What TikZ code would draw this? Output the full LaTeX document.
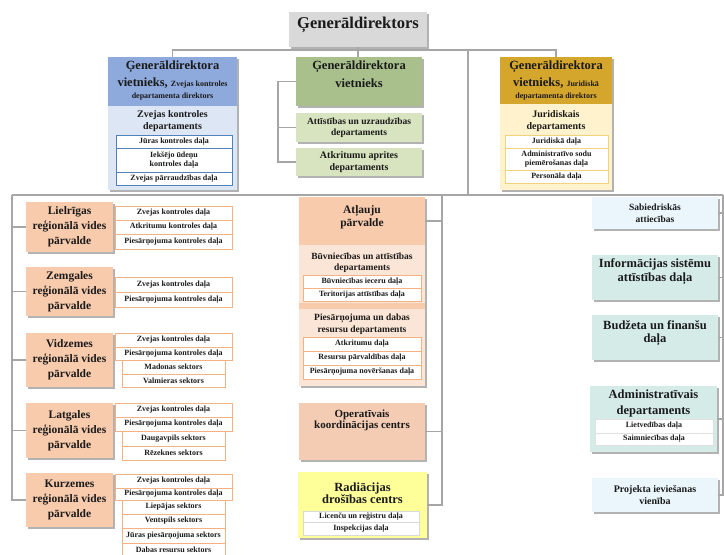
\documentclass[tikz,border=0pt]{standalone}
\usepackage{fontspec}
\setmainfont{Liberation Serif}
\usetikzlibrary{shadows}
\definecolor{lgray}{HTML}{A6A6A6}
\definecolor{topgray}{HTML}{D9D9D9}
\definecolor{bluehd}{HTML}{8EA9DB}
\definecolor{bluelt}{HTML}{DCE6F4}
\definecolor{bluebd}{HTML}{4F81BD}
\definecolor{greenhd}{HTML}{A9C08C}
\definecolor{greenlt}{HTML}{D8E4BF}
\definecolor{goldhd}{HTML}{D5A62C}
\definecolor{goldlt}{HTML}{FFF2CC}
\definecolor{goldbd}{HTML}{F2D27A}
\definecolor{peach}{HTML}{F8CBAD}
\definecolor{peachlt}{HTML}{FBE5D6}
\definecolor{peachbd}{HTML}{F4B183}
\definecolor{opfill}{HTML}{F4CCB4}
\definecolor{yel}{HTML}{FFFF99}
\definecolor{tealf}{HTML}{D4EBE8}
\definecolor{skyl}{HTML}{EAF6FB}
\definecolor{txt}{HTML}{1A1A1A}
\newcommand\fs[2]{\fontsize{#1}{#2}\selectfont\bfseries}
\newcommand\bx[6]{\pgfmathsetmacro\bxw{#4-#2}\pgfmathsetmacro\bxh{#5-#3}\node[#6,anchor=north west,minimum width=\bxw pt,minimum height=\bxh pt,inner sep=0pt,outer sep=0pt] (#1) at (#2,#3) {};}
\newcommand\rw[7]{\pgfmathsetmacro\bxw{#4-#2}\pgfmathsetmacro\bxh{#5-#3}\node[#6,anchor=north west,minimum width=\bxw pt,minimum height=\bxh pt,inner sep=0pt,outer sep=0pt,align=center] (#1) at (#2,#3) {#7};}
\tikzset{
  conn/.style={draw=lgray,line width=1.2pt},
  shd/.style={drop shadow={shadow xshift=1.5pt,shadow yshift=-1.5pt,fill=black,opacity=.3}},
  tx/.style={align=center,inner sep=0pt,text=txt},
  rowb/.style={draw=#1,fill=white,line width=.6pt,text=txt,font=\fs{8}{9}},
}
\begin{document}
\begin{tikzpicture}[x=1pt,y=-1pt]
\useasboundingbox[fill=white] (0,0) rectangle (724,555);

% ---------- top ----------
\bx{gd}{289}{12}{427}{47}{fill=topgray,shd}
\node[tx,font=\fs{16.5}{18}] (gdt) at (358,25) {Ģenerāldirektors};

% ---------- deputy 1 (blue) ----------
\bx{dep1p}{108}{57}{237}{190}{fill=bluelt,shd}
\bx{dep1}{108}{57}{237}{106}{fill=bluehd}
\node[tx,font=\fs{12.5}{14}] (dep1a) at (172.5,67) {Ģenerāldirektora};
\node[tx,font=\fs{12.5}{14}] (dep1b) at (172.5,83) {vietnieks, {\fs{8}{9}Zvejas kontroles}};
\node[tx,font=\fs{8}{9}] (dep1c) at (172.5,97) {departamenta direktors};
\node[tx,font=\fs{10}{12}] (dep1d) at (172.5,121) {Zvejas kontroles\\departaments};
\rw{d1r1}{116}{135}{232}{148}{rowb=bluebd}{Jūras kontroles daļa}
\rw{d1r2}{116}{148}{232}{172}{rowb=bluebd}{Iekšējo ūdeņu\\kontroles daļa}
\rw{d1r3}{116}{172}{232}{185}{rowb=bluebd}{Zvejas pārraudzības daļa}

% ---------- deputy 2 (green) ----------
\bx{dep2}{296}{57}{422}{106}{fill=greenhd,shd}
\node[tx,font=\fs{12.5}{14}] (dep2a) at (359,67) {Ģenerāldirektora};
\node[tx,font=\fs{12.5}{14}] (dep2b) at (359,83) {vietnieks};
\rw{att}{296}{113}{422}{142}{tx,fill=greenlt,shd,font=\fs{9.5}{11}}{Attīstības un uzraudzības\\departaments}
\rw{atk}{296}{148}{422}{176}{tx,fill=greenlt,shd,font=\fs{10}{12}}{Atkritumu aprites\\departaments}

% ---------- deputy 3 (gold) ----------
\bx{dep3p}{500}{57}{612}{190}{fill=goldlt,shd}
\bx{dep3}{500}{57}{612}{104}{fill=goldhd}
\node[tx,font=\fs{12.5}{14}] (dep3a) at (556,67) {Ģenerāldirektora};
\node[tx,font=\fs{12.5}{14}] (dep3b) at (556,83) {vietnieks, {\fs{8}{9}Juridiskā}};
\node[tx,font=\fs{8}{9}] (dep3c) at (556,97) {departamenta direktors};
\node[tx,font=\fs{10}{12}] (dep3d) at (556,121) {Juridiskais\\departaments};
\rw{d3r1}{505}{135}{608}{148}{rowb=goldbd}{Juridiskā daļa}
\rw{d3r2}{505}{148}{608}{170}{rowb=goldbd}{Administratīvo sodu\\piemērošanas daļa}
\rw{d3r3}{505}{170}{608}{183}{rowb=goldbd}{Personāla daļa}

% ---------- left: regional boards ----------
\rw{lie}{26}{202}{113}{252}{tx,fill=peach,shd,font=\fs{11.5}{15}}{Lielrīgas\\reģionālā vides\\pārvalde}
\rw{lie1}{115}{206}{232}{220}{rowb=peachbd}{Zvejas kontroles daļa}
\rw{lie2}{115}{220}{232}{234}{rowb=peachbd}{Atkritumu kontroles daļa}
\rw{lie3}{115}{234}{232}{249}{rowb=peachbd}{Piesārņojuma kontroles daļa}

\rw{zem}{26}{267}{113}{316}{tx,fill=peach,shd,font=\fs{11.5}{15}}{Zemgales\\reģionālā vides\\pārvalde}
\rw{zem1}{115}{277}{232}{292}{rowb=peachbd}{Zvejas kontroles daļa}
\rw{zem2}{115}{292}{232}{307}{rowb=peachbd}{Piesārņojuma kontroles daļa}

\rw{vid}{26}{333}{113}{387}{tx,fill=peach,shd,font=\fs{11.5}{15}}{Vidzemes\\reģionālā vides\\pārvalde}
\rw{vid1}{115}{333}{232}{347}{rowb=peachbd}{Zvejas kontroles daļa}
\rw{vid2}{115}{347}{232}{360}{rowb=peachbd}{Piesārņojuma kontroles daļa}
\rw{vid3}{122}{360}{225}{374}{rowb=peachbd}{Madonas sektors}
\rw{vid4}{122}{374}{225}{387}{rowb=peachbd}{Valmieras sektors}

\rw{lat}{26}{403}{113}{458}{tx,fill=peach,shd,font=\fs{11.5}{15}}{Latgales\\reģionālā vides\\pārvalde}
\rw{lat1}{115}{403}{232}{417}{rowb=peachbd}{Zvejas kontroles daļa}
\rw{lat2}{115}{417}{232}{431}{rowb=peachbd}{Piesārņojuma kontroles daļa}
\rw{lat3}{122}{431}{225}{446}{rowb=peachbd}{Daugavpils sektors}
\rw{lat4}{122}{446}{225}{460}{rowb=peachbd}{Rēzeknes sektors}

\rw{kur}{26}{473}{113}{527}{tx,fill=peach,shd,font=\fs{11.5}{15}}{Kurzemes\\reģionālā vides\\pārvalde}
\rw{kur1}{115}{474}{232}{488}{rowb=peachbd}{Zvejas kontroles daļa}
\rw{kur2}{115}{488}{232}{500}{rowb=peachbd}{Piesārņojuma kontroles daļa}
\rw{kur3}{122}{500}{225}{514}{rowb=peachbd}{Liepājas sektors}
\rw{kur4}{122}{514}{225}{528}{rowb=peachbd}{Ventspils sektors}
\rw{kur5}{122}{528}{225}{543}{rowb=peachbd}{Jūras piesārņojuma sektors}
\rw{kur6}{122}{543}{225}{557}{rowb=peachbd}{Dabas resursu sektors}

% ---------- middle column ----------
\bx{atlp}{299}{197}{425}{386}{fill=peachlt,shd}
\bx{atl}{299}{197}{425}{245}{fill=peach}
\bx{band}{299}{303}{425}{309}{fill=peach}
\node[tx,font=\fs{11.5}{13}] (atlt) at (362,217.5) {Atļauju\\pārvalde};
\node[tx,font=\fs{9.5}{11.5}] (buvt) at (362,262.5) {Būvniecības un attīstības\\departaments};
\rw{buv1}{303}{275}{421}{288}{rowb=peachbd}{Būvniecības ieceru daļa}
\rw{buv2}{303}{288}{421}{301}{rowb=peachbd}{Teritorijas attīstības daļa}
\node[tx,font=\fs{9.5}{11.5}] (piet) at (362,324) {Piesārņojuma un dabas\\resursu departaments};
\rw{pie1}{303}{337}{421}{351}{rowb=peachbd}{Atkritumu daļa}
\rw{pie2}{303}{351}{421}{365}{rowb=peachbd}{Resursu pārvaldības daļa}
\rw{pie3}{303}{365}{421}{379}{rowb=peachbd}{Piesārņojuma novēršanas daļa}

\bx{op}{299}{403}{425}{460}{fill=opfill,shd}
\node[tx,font=\fs{11}{11.5}] (opt) at (362,420.5) {Operatīvais\\koordinācijas centrs};

\bx{rad}{298}{472}{427}{538}{fill=yel,shd}
\node[tx,font=\fs{12.5}{12.5}] (radt) at (362.5,493) {Radiācijas\\drošības centrs};
\rw{rad1}{303}{511}{419}{522}{rowb=black!15}{Licenču un reģistru daļa}
\rw{rad2}{303}{522}{419}{535}{rowb=black!15}{Inspekcijas daļa}

% ---------- right column ----------
\rw{sab}{592}{197}{718}{229}{tx,fill=skyl,shd,font=\fs{9.5}{12}}{Sabiedriskās\\attiecības}
\bx{inf}{592}{255}{718}{300}{fill=tealf,shd}
\node[tx,font=\fs{12.5}{14}] (inft) at (655,272) {Informācijas sistēmu\\attīstības daļa};
\bx{bud}{592}{315}{718}{360}{fill=tealf,shd}
\node[tx,font=\fs{12.5}{13}] (budt) at (655,333) {Budžeta un finanšu\\daļa};
\bx{adm}{590}{386}{717}{452}{fill=tealf,shd}
\node[tx,font=\fs{12.5}{15.5}] (admt) at (653.5,403.5) {Administratīvais\\departaments};
\rw{adm1}{595}{419}{713}{433}{rowb=black!12}{Lietvedības daļa}
\rw{adm2}{595}{433}{713}{445}{rowb=black!12}{Saimniecības daļa}
\rw{proj}{592}{478}{718}{512}{tx,fill=skyl,shd,font=\fs{10}{12}}{Projekta ieviešanas\\vienība}

% ---------- connectors ----------
\coordinate (j1) at (468,50);
\coordinate (j2) at (468,195);
\coordinate (busBL) at (12,195);
\coordinate (busBM) at (442,195);
\coordinate (busBR) at (723,195);
\draw[conn] (dep1.north) -- ++(0,-7) -| (dep3.north);
\draw[conn] (gd.south) -- (gd.south |- dep2.north);
\draw[conn] (j1) -- (j2);
\draw[conn] (busBL) -- (busBR);
\draw[conn] (busBL) |- (kur.west);
\foreach \n in {lie,zem,vid,lat} \draw[conn] (\n.west) -- (\n.west -| busBL);
\draw[conn] (busBM) |- (rad.east);
\foreach \n in {atl,op} \draw[conn] (\n.east) -- (\n.east -| busBM);
\draw[conn] (busBR) |- (proj.east);
\foreach \n in {sab,inf,bud,adm} \draw[conn] (\n.east) -- (\n.east -| busBR);
\draw[conn] (atk.west) -- ++(-18,0) |- (dep2.west);
\draw[conn] (att.west) -- ++(-18,0);
\end{tikzpicture}
\end{document}
